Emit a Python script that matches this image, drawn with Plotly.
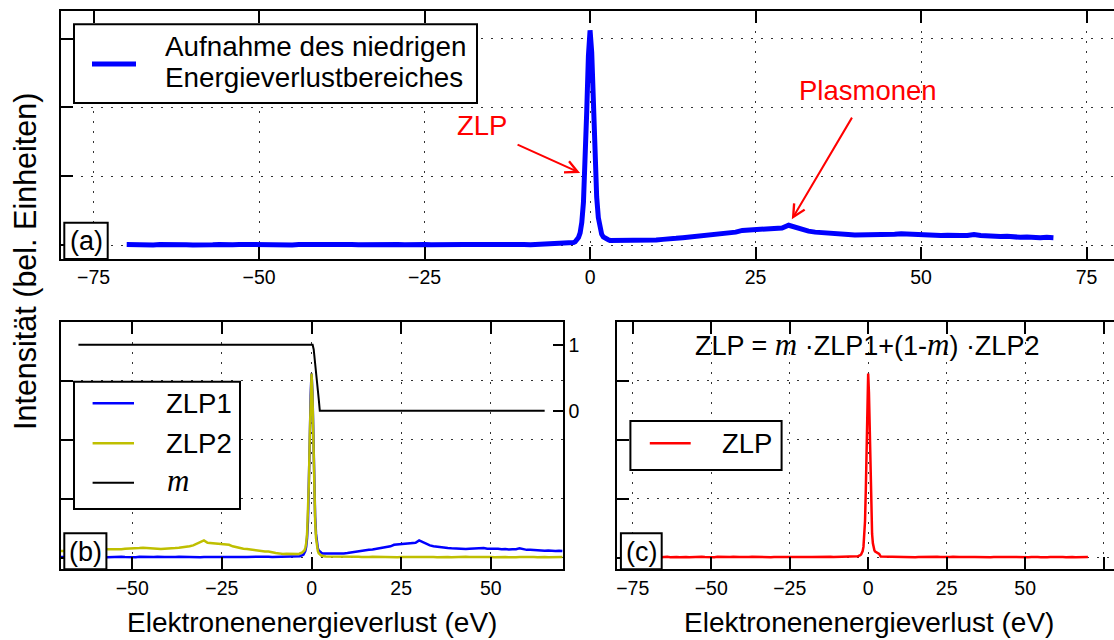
import plotly.graph_objects as go

W, H = 1114, 640

# ---------------------------------------------------------------- data
# energy-loss sampling grid (eV)
energy_left = list(range(-70, -3))                     # -70 ... -4
energy_peak = [-3.5 + 0.25 * i for i in range(29)]     # -3.5 ... 3.5
energy_right = list(range(4, 71))                      # 4 ... 70
energy = energy_left + energy_peak + energy_right

# gain side: flat background (-70 ... -4 eV)
baseline_left = [
    0.010, 0.005, 0.012, 0.008, 0.004, 0.009, 0.012, 0.006, 0.010, 0.008,
    0.005, 0.011, 0.009, 0.006, 0.010, 0.004, 0.008, 0.012, 0.009, 0.006,
    0.010, 0.006, 0.012, 0.009, 0.008, 0.005, 0.010, 0.012, 0.006, 0.009,
    0.010, 0.006, 0.009, 0.012, 0.010, 0.006, 0.009, 0.010, 0.012, 0.006,
    0.010, 0.009, 0.006, 0.012, 0.010, 0.009, 0.006, 0.010, 0.012, 0.010,
    0.006, 0.009, 0.010, 0.012, 0.010, 0.006, 0.010, 0.011, 0.013, 0.010,
    0.011, 0.008, 0.012, 0.014, 0.013, 0.014, 0.016,
]

# zero-loss peak (-3.5 ... 3.5 eV in 0.25 eV steps)
zlp_peak = [
    0.02, 0.02, 0.03, 0.03, 0.04, 0.05, 0.07, 0.11, 0.18, 0.33,
    0.62, 1.15, 1.95, 2.75, 3.12, 2.80, 2.05, 1.25, 0.70, 0.40,
    0.24, 0.16, 0.12, 0.10, 0.09, 0.08, 0.07, 0.07, 0.06,
]

# loss side with plasmon hump (4 ... 70 eV)
plasmon_right = [
    0.06, 0.065, 0.06, 0.065, 0.06, 0.07, 0.075, 0.085, 0.10, 0.10,
    0.11, 0.12, 0.13, 0.135, 0.145, 0.15, 0.165, 0.175, 0.19, 0.215,
    0.22, 0.23, 0.235, 0.24, 0.245, 0.25, 0.29, 0.26, 0.23, 0.205,
    0.19, 0.18, 0.17, 0.165, 0.16, 0.155, 0.15, 0.15, 0.145, 0.145,
    0.15, 0.155, 0.16, 0.165, 0.16, 0.15, 0.155, 0.15, 0.15, 0.14,
    0.145, 0.135, 0.14, 0.14, 0.155, 0.14, 0.13, 0.13, 0.125, 0.13,
    0.12, 0.115, 0.12, 0.11, 0.11, 0.115, 0.11,
]

spectrum = baseline_left + zlp_peak + plasmon_right
zlp1 = spectrum                 # measured low-loss spectrum
zlp2 = spectrum[::-1]           # mirrored spectrum
zlp = baseline_left + zlp_peak + baseline_left[::-1]

# weighting function m
m_energy = [-65, 0.3, 0.6, 1.0, 1.5, 2.0, 2.3, 65]
m_weight = [1, 1, 0.93, 0.74, 0.47, 0.18, 0, 0]

x_ticks_wide = [-75, -50, -25, 0, 25, 50, 75]
x_ticks_mid = [-50, -25, 0, 25, 50]
y_ticks = [0, 1, 2, 3]
m_ticks = [0, 1]

# ---------------------------------------------------------------- style
SANS = "Liberation Sans, Arial, Helvetica, sans-serif"
BLUE, YELLOW, RED, BLACK = "#0000ff", "#bfbf00", "#ff0000", "#000000"


def px(x):
    return x / W


def py(y):
    return 1 - y / H


axis_style = dict(
    showline=True, linecolor=BLACK, linewidth=2,
    ticks="inside", ticklen=12, tickwidth=2, tickcolor=BLACK,
    showgrid=True, gridcolor="#333333", gridwidth=1.3, griddash="2px,8px",
    zeroline=False,
    tickfont=dict(family=SANS, size=19.5, color=BLACK),
)

M_SPAN = ("<span style=\"font-family:'Liberation Serif',serif;"
          "font-style:italic;font-size:31px\">m</span>")

fig = go.Figure()

# (a) low-loss spectrum
fig.add_trace(go.Scatter(x=energy, y=spectrum, mode="lines", xaxis="x", yaxis="y",
                         line=dict(color=BLUE, width=5), showlegend=False))
# (b) ZLP1, ZLP2 and m
fig.add_trace(go.Scatter(x=energy, y=zlp1, mode="lines", xaxis="x2", yaxis="y2",
                         line=dict(color=BLUE, width=2.5), showlegend=False))
fig.add_trace(go.Scatter(x=energy, y=zlp2, mode="lines", xaxis="x2", yaxis="y2",
                         line=dict(color=YELLOW, width=2.5), showlegend=False))
fig.add_trace(go.Scatter(x=m_energy, y=m_weight, mode="lines", xaxis="x2", yaxis="y3",
                         line=dict(color=BLACK, width=2), showlegend=False))
# (c) combined ZLP
fig.add_trace(go.Scatter(x=energy, y=zlp, mode="lines", xaxis="x3", yaxis="y4",
                         line=dict(color=RED, width=2.5), showlegend=False))

fig.update_layout(
    width=W, height=H,
    margin=dict(l=0, r=0, t=0, b=0),
    paper_bgcolor="white", plot_bgcolor="white",
    font=dict(family=SANS, color=BLACK),
    xaxis=dict(axis_style, domain=[px(60.5), 1], range=[-80, 79.15], anchor="y",
               tickvals=x_ticks_wide, mirror="ticks"),
    yaxis=dict(axis_style, domain=[py(259), py(11)], range=[-0.2, 3.4], anchor="x",
               tickvals=y_ticks, showticklabels=False, mirror=False),
    xaxis2=dict(axis_style, domain=[px(60.5), px(562.6)], range=[-70, 70], anchor="y2",
                tickvals=x_ticks_mid, mirror="ticks"),
    yaxis2=dict(axis_style, domain=[py(569.3), py(321.7)], range=[-0.2, 4.0], anchor="x2",
                tickvals=y_ticks, showticklabels=False, mirror=False),
    yaxis3=dict(axis_style, overlaying="y2", side="right", anchor="x2",
                range=[-2.4, 1.35], tickvals=m_ticks, showgrid=False, ticklen=10),
    xaxis3=dict(axis_style, domain=[px(617), 1], range=[-80, 78.3], anchor="y4",
                tickvals=x_ticks_wide, mirror="ticks"),
    yaxis4=dict(axis_style, domain=[py(569.3), py(321.7)], range=[-0.2, 4.0], anchor="x3",
                tickvals=y_ticks, showticklabels=False, mirror=False),
)

# ---------------------------------------------------------------- boxes
shapes = []


def box(x0, x1, y0, y1):
    shapes.append(dict(type="rect", xref="paper", yref="paper", layer="above",
                       x0=px(x0), x1=px(x1), y0=py(y1), y1=py(y0),
                       line=dict(color=BLACK, width=2), fillcolor="white"))


def sample(x0, x1, y, color, width):
    shapes.append(dict(type="line", xref="paper", yref="paper", layer="above",
                       x0=px(x0), x1=px(x1), y0=py(y), y1=py(y),
                       line=dict(color=color, width=width)))


# legends
box(74, 477, 24.3, 103)
sample(92, 136, 64, BLUE, 5)
box(74, 240, 381.7, 509)
sample(92.6, 134, 403.3, BLUE, 2.5)
sample(92.6, 134, 443.3, YELLOW, 2.5)
sample(92.6, 134, 482.7, BLACK, 2)
box(630.4, 781.6, 421, 470)
sample(649.8, 690.7, 443.3, RED, 2.5)
# panel labels
box(64.3, 107.7, 222.7, 259)
box(64.3, 106.4, 533.3, 569.3)
box(620.9, 661.7, 533.3, 569.3)
fig.update_layout(shapes=shapes)

# ---------------------------------------------------------------- texts
ann = []


def text(x, y, s, size=27, anchor="center", color=BLACK, angle=0):
    ann.append(dict(x=px(x), y=py(y), xref="paper", yref="paper", text=s,
                    showarrow=False, xanchor=anchor, yanchor="middle",
                    textangle=angle, font=dict(family=SANS, size=size, color=color)))


text(163, 46.5, "Aufnahme des niedrigen", 27.8, "left")
text(163, 77.5, "Energieverlustbereiches", 27.8, "left")
text(164, 403.3, "ZLP1", 27.5, "left")
text(164, 443.3, "ZLP2", 27.5, "left")
text(164.6, 480, M_SPAN, 27, "left")
text(719.5, 443.3, "ZLP", 27.5, "left")
text(86, 241, "(a)", 27)
text(85.3, 551.5, "(b)", 27)
text(641.3, 551.5, "(c)", 27)
text(867, 344.5, "ZLP = " + M_SPAN + " ·ZLP1+(1-" + M_SPAN + ") ·ZLP2", 27)
text(25, 262, "Intensität (bel. Einheiten)", 30.5, angle=-90)
text(312, 622.5, "Elektronenenergieverlust (eV)", 28)
text(868.7, 622.5, "Elektronenenergieverlust (eV)", 28)

# red callouts in panel (a)
ann.append(dict(x=-16.3, y=1.745, xref="x", yref="y", text="ZLP", showarrow=False,
                font=dict(family=SANS, size=27.5, color=RED)))
ann.append(dict(x=42, y=2.24, xref="x", yref="y", text="Plasmonen", showarrow=False,
                font=dict(family=SANS, size=27.5, color=RED)))
ann.append(dict(x=-1.51, y=1.05, ax=-11.18, ay=1.47, xref="x", yref="y",
                axref="x", ayref="y", text="", showarrow=True, arrowhead=5,
                arrowsize=1.2, arrowwidth=2, arrowcolor=RED))
ann.append(dict(x=30.48, y=0.376, ax=39.7, ay=1.874, xref="x", yref="y",
                axref="x", ayref="y", text="", showarrow=True, arrowhead=5,
                arrowsize=1.2, arrowwidth=2, arrowcolor=RED))
fig.update_layout(annotations=ann)

fig.write_html("out.html")
